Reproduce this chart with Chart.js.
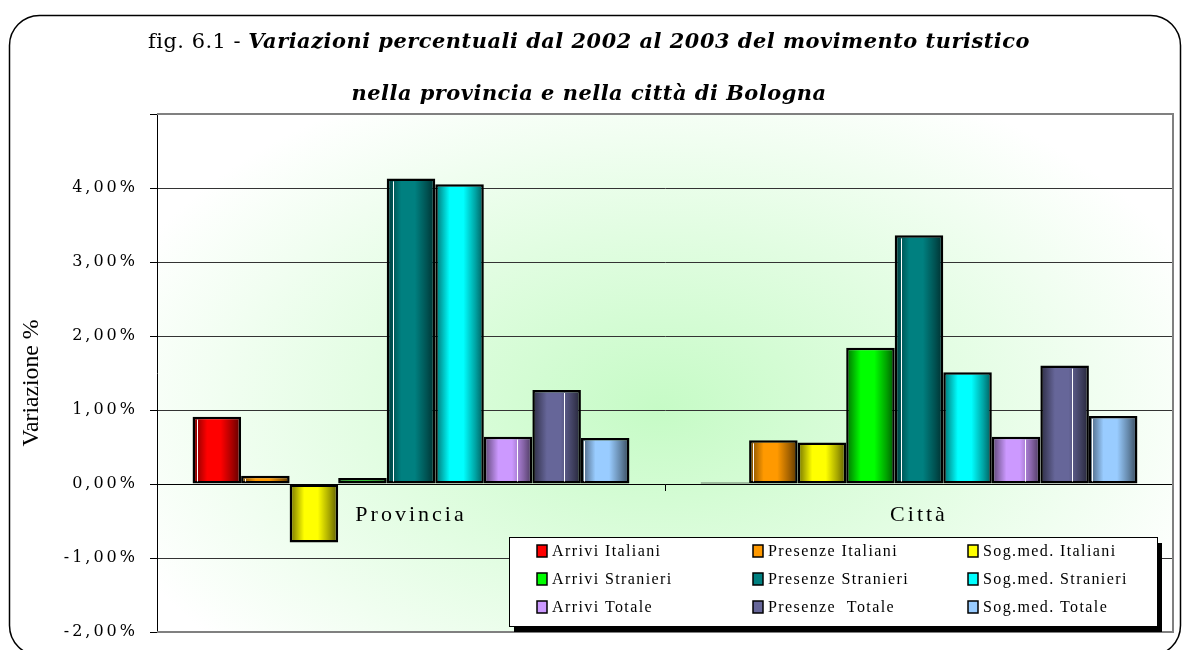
<!DOCTYPE html>
<html>
<head>
<meta charset="utf-8">
<script src="https://cdn.jsdelivr.net/npm/chart.js@4.4.1/dist/chart.umd.min.js"></script>
<style>
  html, body { margin: 0; padding: 0; background: #fff; }
  #wrap { width: 1186px; height: 650px; }
</style>
</head>
<body>
<div id="wrap"><canvas id="chart" width="1186" height="650"></canvas></div>
<script>
const categories = ['Provincia', 'Città'];
const seriesNames = ['Arrivi Italiani', 'Presenze Italiani', 'Sog.med. Italiani',
  'Arrivi Stranieri', 'Presenze Stranieri', 'Sog.med. Stranieri',
  'Arrivi Totale', 'Presenze  Totale', 'Sog.med. Totale'];
const provincia = [0.91, 0.11, -0.79, 0.08, 4.13, 4.05, 0.64, 1.27, 0.62];
const citta = [0.02, 0.59, 0.56, 1.84, 3.36, 1.51, 0.64, 1.60, 0.92];
const yTickLabels = ['-2,00%', '-1,00%', '0,00%', '1,00%', '2,00%', '3,00%', '4,00%'];

const colors = ['#ff0000', '#ff9900', '#ffff00', '#00ff00', '#008080', '#00ffff', '#cc99ff', '#666699', '#99ccff'];
// thin white highlight inside some bars (fraction of bar width), null = none
const stripes = [0.1, 0.07, null, null, 0.12, null, 0.69, 0.66, 0.07];

function darken(hex, f) {
  const n = parseInt(hex.slice(1), 16);
  const r = Math.round(((n >> 16) & 255) * f);
  const g = Math.round(((n >> 8) & 255) * f);
  const b = Math.round((n & 255) * f);
  return 'rgb(' + r + ',' + g + ',' + b + ')';
}

const decor = {
  id: 'decor',
  beforeDraw(chart) {
    const ctx = chart.ctx, a = chart.chartArea;
    ctx.save();
    // outer rounded frame
    ctx.strokeStyle = '#000';
    ctx.lineWidth = 1.5;
    ctx.beginPath();
    ctx.roundRect(9.5, 15.5, 1171, 640, 30);
    ctx.stroke();
    // plot area background, light green in the middle
    ctx.beginPath();
    ctx.rect(a.left, a.top, a.right - a.left, a.bottom - a.top);
    ctx.clip();
    ctx.translate(660, 410);
    ctx.scale(1, 0.62);
    const g = ctx.createRadialGradient(0, 0, 0, 0, 0, 580);
    g.addColorStop(0, '#c6fbc6');
    g.addColorStop(0.5, '#e2fde2');
    g.addColorStop(1, '#ffffff');
    ctx.fillStyle = g;
    ctx.fillRect(-900, -900, 1800, 1800);
    ctx.restore();
    ctx.letterSpacing = '3px';
  },
  beforeDatasetsDraw(chart) {
    const ctx = chart.ctx;
    ctx.letterSpacing = '0px';
    chart.data.datasets.forEach((ds, i) => {
      const base = colors[i];
      chart.getDatasetMeta(i).data.forEach(bar => {
        const l = bar.x - bar.width / 2, r = bar.x + bar.width / 2;
        const g = ctx.createLinearGradient(l, 0, r, 0);
        g.addColorStop(0, darken(base, 0.45));
        g.addColorStop(0.1, darken(base, 0.62));
        g.addColorStop(0.3, base);
        g.addColorStop(0.58, base);
        g.addColorStop(0.82, darken(base, 0.65));
        g.addColorStop(1, darken(base, 0.35));
        bar.options = Object.assign({}, bar.options, { backgroundColor: g });
      });
    });
  },
  afterDatasetsDraw(chart) {
    const ctx = chart.ctx;
    ctx.save();
    ctx.strokeStyle = '#fff';
    ctx.lineWidth = 1;
    chart.data.datasets.forEach((ds, i) => {
      if (stripes[i] == null) return;
      chart.getDatasetMeta(i).data.forEach(bar => {
        const top = Math.min(bar.y, bar.base), bot = Math.max(bar.y, bar.base);
        if (bot - top < 5) return;
        const x = Math.round(bar.x - bar.width / 2 + bar.width * stripes[i]) + 0.5;
        ctx.beginPath();
        ctx.moveTo(x, top + 3);
        ctx.lineTo(x, bot - 2);
        ctx.stroke();
      });
    });
    ctx.restore();
  },
  afterDraw(chart) {
    const ctx = chart.ctx, a = chart.chartArea;
    ctx.save();
    // grey frame of the plot area
    ctx.strokeStyle = '#808080';
    ctx.lineWidth = 2;
    ctx.beginPath();
    ctx.moveTo(a.left, a.top);
    ctx.lineTo(a.right, a.top);
    ctx.lineTo(a.right, a.bottom);
    ctx.lineTo(a.left, a.bottom);
    ctx.stroke();

    // legend box with shadow
    const lx = 509, ly = 537, lw = 648, lh = 89;
    ctx.fillStyle = '#000';
    ctx.fillRect(lx + 5, ly + 6, lw, lh);
    ctx.fillStyle = '#fff';
    ctx.fillRect(lx, ly, lw, lh);
    ctx.strokeStyle = '#000';
    ctx.lineWidth = 1;
    ctx.strokeRect(lx + 0.5, ly + 0.5, lw, lh);
    ctx.font = '16px "Liberation Serif"';
    ctx.textBaseline = 'middle';
    ctx.textAlign = 'left';
    ctx.letterSpacing = '1.4px';
    const colX = [537, 753, 968], rowY = [551, 579, 607];
    chart.data.datasets.forEach((ds, i) => {
      const x = colX[i % 3], y = rowY[Math.floor(i / 3)];
      ctx.fillStyle = colors[i];
      ctx.fillRect(x, y - 6, 10, 12);
      ctx.strokeStyle = '#000';
      ctx.lineWidth = 1.5;
      ctx.strokeRect(x, y - 6, 10, 12);
      ctx.fillStyle = '#000';
      ctx.fillText(ds.label, x + 15, y + 1);
    });

    // title, two lines
    ctx.letterSpacing = '0.5px';
    ctx.textBaseline = 'alphabetic';
    const f1 = '20px "DejaVu Serif"', f2 = 'italic bold 20px "DejaVu Serif"';
    const p1 = 'fig. 6.1 - ';
    const p2 = 'Variazioni percentuali dal 2002 al 2003 del movimento turistico';
    const l2 = 'nella provincia e nella città di Bologna';
    ctx.font = f1;
    const w1 = ctx.measureText(p1).width;
    ctx.font = f2;
    const w2 = ctx.measureText(p2).width, w3 = ctx.measureText(l2).width;
    const s = 882 / (w1 + w2);
    ctx.save();
    ctx.translate(148, 48);
    ctx.scale(s, 1);
    ctx.font = f1;
    ctx.fillText(p1, 0, 0);
    ctx.font = f2;
    ctx.fillText(p2, w1, 0);
    ctx.restore();
    ctx.save();
    ctx.translate(589 - w3 * s / 2, 100);
    ctx.scale(s, 1);
    ctx.font = f2;
    ctx.fillText(l2, 0, 0);
    ctx.restore();

    // y axis title
    ctx.letterSpacing = '0px';
    ctx.font = '23px "Liberation Serif"';
    const yt = 'Variazione %';
    const tw = ctx.measureText(yt).width;
    ctx.translate(38, 383);
    ctx.rotate(-Math.PI / 2);
    ctx.scale(127 / tw, 1);
    ctx.textAlign = 'center';
    ctx.fillText(yt, 0, 0);
    ctx.restore();
  }
};

const datasets = seriesNames.map((name, i) => ({
  label: name,
  data: [provincia[i], citta[i]],
  backgroundColor: colors[i],
  borderColor: '#000',
  borderWidth: 2.5,
  borderSkipped: false,
  categoryPercentage: 0.86,
  barPercentage: 1.0
}));

new Chart(document.getElementById('chart').getContext('2d'), {
  type: 'bar',
  data: { labels: categories, datasets: datasets },
  options: {
    responsive: false,
    animation: false,
    devicePixelRatio: 1,
    layout: { padding: { top: 114, right: 13, bottom: 18, left: 0 } },
    plugins: {
      legend: { display: false },
      title: { display: false },
      tooltip: { enabled: false }
    },
    scales: {
      x: {
        position: { y: 0 },
        offset: true,
        grid: {
          drawOnChartArea: false,
          drawTicks: true,
          tickLength: 6,
          color: '#000',
          offset: true
        },
        border: { display: true, color: '#000', width: 1 },
        ticks: {
          color: '#000',
          padding: 12,
          font: { family: 'Liberation Serif', size: 22 }
        }
      },
      y: {
        min: -2,
        max: 5,
        afterFit: scale => { scale.width = 157; },
        grid: {
          color: '#333',
          tickColor: '#000',
          tickLength: 7,
          lineWidth: 1
        },
        border: { display: true, color: '#000', width: 1 },
        ticks: {
          stepSize: 1,
          color: '#000',
          padding: 12,
          font: { family: 'DejaVu Serif', size: 16, lineHeight: 0.5 },
          callback: (v, i) => yTickLabels[i] || ''
        }
      }
    }
  },
  plugins: [decor]
});
</script>
</body>
</html>
